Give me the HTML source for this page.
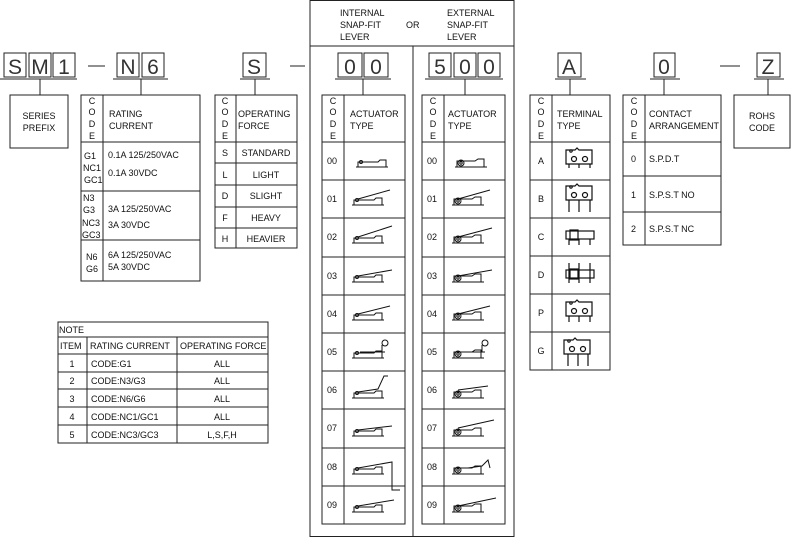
<!DOCTYPE html>
<html><head><meta charset="utf-8"><style>
html,body{margin:0;padding:0;background:#fff}
svg{display:block}
text{font-family:"Liberation Sans",sans-serif;font-size:9px;fill:#111}
.b{font-size:21px;fill:#333}
</style></head><body>
<svg width="793" height="538" viewBox="0 0 793 538" xmlns="http://www.w3.org/2000/svg">
<defs>
<g id="sw" fill="none" stroke="#111" stroke-width="1">
<path d="M0 12 H32 M2 12 V7 H22 L24 5 H30 V12"/><circle cx="5" cy="7" r="1.5"/>
</g>
<g id="sw2" fill="none" stroke="#111" stroke-width="1">
<path d="M0 12 H32 M2 12 V6 H20 L23 4 H29 V12"/><circle cx="6" cy="8" r="3"/><circle cx="6" cy="8" r="1.2"/>
</g>
<g id="term" fill="none" stroke="#111" stroke-width="1.2">
<path d="M0 16 V2 H9 L11 0 L13 2 H26 V16 Z"/><circle cx="5" cy="3" r="1.2"/><circle cx="8" cy="11" r="2.5"/><circle cx="19" cy="11" r="2.5"/>
</g>
</defs>
<g fill="none" stroke="#222" stroke-width="1">
<!-- top code boxes -->
<rect x="4" y="53" width="22" height="24"/><rect x="29" y="53" width="22" height="24"/><rect x="53" y="53" width="22" height="24"/>
<path d="M0 79H77 M40 79V95"/>
<path d="M88 66H105"/>
<rect x="117" y="53" width="22" height="24"/><rect x="142" y="53" width="22" height="24"/>
<path d="M113 79H168 M141 79V95"/>
<rect x="243" y="53" width="23" height="24"/>
<path d="M240 79H270 M255 79V95"/>
<path d="M290 66H305"/>
<rect x="310" y="0.5" width="204" height="536"/><path d="M310 46H514 M413 46V537"/>
<rect x="338" y="53" width="24" height="24"/><rect x="364" y="53" width="24" height="24"/>
<path d="M335 79H391 M363 79V95"/>
<rect x="429" y="53" width="22" height="24"/><rect x="454" y="53" width="22" height="24"/><rect x="478" y="53" width="22" height="24"/>
<path d="M425 79H503 M465 79V95"/>
<rect x="558" y="53" width="23" height="24"/><path d="M555 79H586 M570 79V95"/>
<rect x="654" y="53" width="21" height="24"/><path d="M650 79H680 M664 79V95"/>
<path d="M720 66H740"/>
<rect x="757" y="53" width="23" height="24"/><path d="M754 79H784 M768 79V95"/>
<!-- series prefix -->
<rect x="10" y="95" width="58" height="53"/>
<!-- rating -->
<rect x="81" y="95" width="119" height="186"/><path d="M103 95V281 M81 142H200 M81 191H200 M81 240H200"/>
<!-- force -->
<rect x="215" y="95" width="82" height="153"/><path d="M236 95V248 M215 142H297 M215 163H297 M215 185H297 M215 207H297 M215 228H297"/>
<!-- actuators -->
<rect x="322" y="95" width="83" height="429"/><path d="M344 95V524"/>
<rect x="422" y="95" width="83" height="429"/><path d="M444 95V524"/>
<path d="M322 142H405 M322 180H405 M322 218H405 M322 257H405 M322 295H405 M322 333H405 M322 371H405 M322 409H405 M322 448H405 M322 486H405"/>
<path d="M422 142H505 M422 180H505 M422 218H505 M422 257H505 M422 295H505 M422 333H505 M422 371H505 M422 409H505 M422 448H505 M422 486H505"/>
<!-- terminal -->
<rect x="530" y="95" width="80" height="275"/><path d="M552 95V370 M530 142H610 M530 180H610 M530 218H610 M530 256H610 M530 294H610 M530 332H610"/>
<!-- contact -->
<rect x="623" y="95" width="98" height="150"/><path d="M645 95V245 M623 142H721 M623 176H721 M623 212H721"/>
<!-- rohs -->
<rect x="734" y="95" width="56" height="53"/>
<!-- note -->
<rect x="58" y="322" width="210" height="121"/>
<path d="M58 337H268 M58 354H268 M58 372H268 M58 389H268 M58 407H268 M58 425H268 M87 337V443 M177 337V443"/>
</g>
<!-- big letters -->
<g class="b" text-anchor="middle">
<text class="b" x="15" y="74">S</text><text class="b" x="40" y="74">M</text><text class="b" x="64" y="74">1</text>
<text class="b" x="128" y="74">N</text><text class="b" x="153" y="74">6</text>
<text class="b" x="254" y="74">S</text>
<text class="b" x="350" y="74">0</text><text class="b" x="376" y="74">0</text>
<text class="b" x="440" y="74">5</text><text class="b" x="465" y="74">0</text><text class="b" x="489" y="74">0</text>
<text class="b" x="569" y="74">A</text><text class="b" x="664" y="74">0</text><text class="b" x="768" y="74">Z</text>
</g>
<text x="340" y="16">INTERNAL</text><text x="340" y="28">SNAP-FIT</text><text x="340" y="40">LEVER</text>
<text x="406" y="28">OR</text>
<text x="447" y="16">EXTERNAL</text><text x="447" y="28">SNAP-FIT</text><text x="447" y="40">LEVER</text>
<g text-anchor="middle">
<text x="39" y="119">SERIES</text><text x="39" y="131">PREFIX</text>
<text x="762" y="119">ROHS</text><text x="762" y="131">CODE</text>
</g>
<!-- CODE verticals -->
<g text-anchor="middle">
<text x="92" y="104">C</text><text x="92" y="115">O</text><text x="92" y="127">D</text><text x="92" y="139">E</text>
<text x="225" y="104">C</text><text x="225" y="115">O</text><text x="225" y="127">D</text><text x="225" y="139">E</text>
<text x="333" y="104">C</text><text x="333" y="115">O</text><text x="333" y="127">D</text><text x="333" y="139">E</text>
<text x="433" y="104">C</text><text x="433" y="115">O</text><text x="433" y="127">D</text><text x="433" y="139">E</text>
<text x="541" y="104">C</text><text x="541" y="115">O</text><text x="541" y="127">D</text><text x="541" y="139">E</text>
<text x="634" y="104">C</text><text x="634" y="115">O</text><text x="634" y="127">D</text><text x="634" y="139">E</text>
</g>
<text x="109" y="117">RATING</text><text x="109" y="129">CURRENT</text>
<text x="108" y="158">0.1A 125/250VAC</text><text x="108" y="176">0.1A 30VDC</text>
<text x="84" y="159">G1</text><text x="83" y="171">NC1</text><text x="84" y="183">GC1</text>
<text x="83" y="201">N3</text><text x="83" y="213">G3</text><text x="82" y="226">NC3</text><text x="82" y="238">GC3</text>
<text x="108" y="212">3A 125/250VAC</text><text x="108" y="228">3A 30VDC</text>
<text x="86" y="260">N6</text><text x="86" y="272">G6</text>
<text x="108" y="258">6A 125/250VAC</text><text x="108" y="270">5A 30VDC</text>
<text x="238" y="117">OPERATING</text><text x="238" y="129">FORCE</text>
<g text-anchor="middle">
<text x="225" y="156">S</text><text x="225" y="178">L</text><text x="225" y="199">D</text><text x="225" y="221">F</text><text x="225" y="242">H</text>
<text x="266" y="156">STANDARD</text><text x="266" y="178">LIGHT</text><text x="266" y="199">SLIGHT</text><text x="266" y="221">HEAVY</text><text x="266" y="242">HEAVIER</text>
</g>
<text x="350" y="117">ACTUATOR</text><text x="350" y="129">TYPE</text>
<text x="448" y="117">ACTUATOR</text><text x="448" y="129">TYPE</text>
<g>
<text x="327" y="164">00</text><text x="327" y="202">01</text><text x="327" y="240">02</text><text x="327" y="279">03</text><text x="327" y="317">04</text><text x="327" y="355">05</text><text x="327" y="393">06</text><text x="327" y="431">07</text><text x="327" y="470">08</text><text x="327" y="508">09</text>
<text x="427" y="164">00</text><text x="427" y="202">01</text><text x="427" y="240">02</text><text x="427" y="279">03</text><text x="427" y="317">04</text><text x="427" y="355">05</text><text x="427" y="393">06</text><text x="427" y="431">07</text><text x="427" y="470">08</text><text x="427" y="508">09</text>
</g>
<g fill="none" stroke="#111">
<use href="#sw" x="356" y="155"/><use href="#sw" x="352" y="193"/><use href="#sw" x="352" y="231"/><use href="#sw" x="352" y="270"/><use href="#sw" x="352" y="308"/><use href="#sw" x="352" y="346"/><use href="#sw" x="352" y="386"/><use href="#sw" x="352" y="424"/><use href="#sw" x="352" y="462"/><use href="#sw" x="352" y="500"/>
<path d="M358 199L390 190 M358 237L392 226 M358 276L392 270 M358 314L390 306 M360 352H385 M382 352V345 M358 392L378 389 L384 376 H388 M358 430L392 426 M358 468L392 462 V490 H400 M358 506L394 500"/>
<circle cx="385" cy="343" r="3"/>
<use href="#sw2" x="455" y="155"/><use href="#sw2" x="452" y="193"/><use href="#sw2" x="452" y="231"/><use href="#sw2" x="452" y="270"/><use href="#sw2" x="452" y="308"/><use href="#sw2" x="452" y="346"/><use href="#sw2" x="452" y="386"/><use href="#sw2" x="452" y="424"/><use href="#sw2" x="452" y="462"/><use href="#sw2" x="452" y="500"/>
<path d="M458 199L490 190 M458 237L492 228 M458 276L492 270 M458 314L490 306 M460 352H485 M482 352V345 M458 390L488 386 M458 428L494 420 M468 468L482 466 L488 460 L490 468 M458 506L496 498"/>
<circle cx="485" cy="343" r="3"/>
</g>
<text x="557" y="117">TERMINAL</text><text x="557" y="129">TYPE</text>
<g text-anchor="middle">
<text x="541" y="164">A</text><text x="541" y="202">B</text><text x="541" y="240">C</text><text x="541" y="278">D</text><text x="541" y="316">P</text><text x="541" y="354">G</text>
</g>
<g fill="none" stroke="#111" stroke-width="1.2">
<use href="#term" x="566" y="148"/><path d="M569 164V168 M579 164V168 M590 164V168"/>
<use href="#term" x="566" y="184"/><path d="M569 200V212 M579 200V212 M590 200V212"/>
<rect x="566" y="231" width="28" height="8"/><rect x="570" y="230" width="8" height="10"/><path d="M569 239V245 M579 239V245 M590 239V245"/>
<rect x="566" y="270" width="28" height="8"/><rect x="570" y="269" width="8" height="10"/><path d="M569 263V283 M579 263V283 M590 263V283"/>
<use href="#term" x="566" y="300"/><path d="M569 316V322 M579 316V322 M590 316V322"/>
<use href="#term" x="564" y="338"/><path d="M568 354V366 M578 354V366 M588 354V366"/>
</g>
<text x="649" y="117">CONTACT</text><text x="649" y="129">ARRANGEMENT</text>
<text x="631" y="162">0</text><text x="649" y="162">S.P.D.T</text>
<text x="631" y="198">1</text><text x="649" y="198">S.P.S.T NO</text>
<text x="631" y="232">2</text><text x="649" y="232">S.P.S.T NC</text>
<text x="59" y="333">NOTE</text>
<text x="60" y="349">ITEM</text><text x="90" y="349">RATING CURRENT</text><text x="180" y="349">OPERATING FORCE</text>
<g text-anchor="middle">
<text x="72" y="367">1</text><text x="72" y="384">2</text><text x="72" y="402">3</text><text x="72" y="420">4</text><text x="72" y="438">5</text>
<text x="222" y="367">ALL</text><text x="222" y="384">ALL</text><text x="222" y="402">ALL</text><text x="222" y="420">ALL</text><text x="222" y="438">L,S,F,H</text>
</g>
<text x="91" y="367">CODE:G1</text><text x="91" y="384">CODE:N3/G3</text><text x="91" y="402">CODE:N6/G6</text><text x="91" y="420">CODE:NC1/GC1</text><text x="91" y="438">CODE:NC3/GC3</text>
</svg>
</body></html>
